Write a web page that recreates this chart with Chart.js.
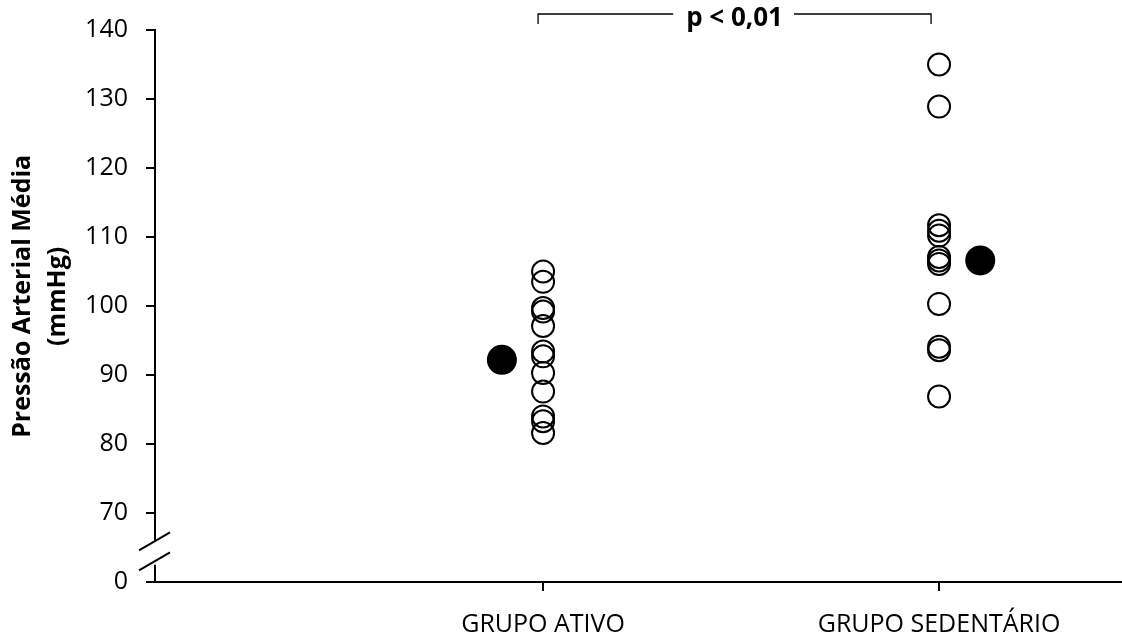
<!DOCTYPE html>
<html>
<head>
<meta charset="utf-8">
<script src="https://cdn.jsdelivr.net/npm/chart.js@4/dist/chart.umd.min.js"></script>
<style>
  html, body { margin: 0; padding: 0; background: #fff; overflow: hidden; }
  #wrap { width: 1122px; height: 637px; }
  canvas { display: block; }
</style>
</head>
<body>
<div id="wrap"><canvas id="pamChart"></canvas></div>
<script>
// Values (mmHg)
const groupLabels = ['GRUPO ATIVO', 'GRUPO SEDENTÁRIO'];
const groupX = [1, 2];
const meanX = [0.896, 2.104];
const ativoValues = [105.0, 103.5, 99.7, 99.2, 97.1, 93.4, 92.7, 90.3, 87.6, 84.0, 83.3, 81.6];
const sedentarioValues = [135.0, 128.9, 111.7, 110.9, 110.2, 107.1, 106.6, 106.1, 100.3, 94.1, 93.6, 86.9];
const groupMeans = [92.2, 106.6];
const yTicks = [60, 70, 80, 90, 100, 110, 120, 130, 140];
const yTickLabels = ['0', '70', '80', '90', '100', '110', '120', '130', '140'];
const pLabel = 'p < 0,01';
const yTitle = ['Pressão Arterial Média', '(mmHg)'];

const font = "'Open Sans', 'Liberation Sans', sans-serif";

// extra drawing: axis break, significance bracket, y title
const extras = {
    id: 'extras',
    afterDraw(chart) {
        const c = chart.ctx;
        const xs = chart.scales.x, ys = chart.scales.y;
        const ax = ys.right;
        c.save();
        c.strokeStyle = '#000';

        // axis break between 0 and 70
        const yTop = ys.getPixelForValue(66.1);
        const yBot = ys.getPixelForValue(62.5);
        c.fillStyle = '#fff';
        c.fillRect(ax - 4, yTop, 8, yBot - yTop);
        c.lineWidth = 2;
        [65.9, 63.0].forEach(v => {
            const yy = ys.getPixelForValue(v);
            c.beginPath();
            c.moveTo(ax - 16, yy + 9);
            c.lineTo(ax + 15, yy - 9);
            c.stroke();
        });

        // bracket with p-value
        const x1 = xs.getPixelForValue(groupX[0]) - 5;
        const x2 = xs.getPixelForValue(groupX[1]) - 8;
        const yb = chart.chartArea.top - 16;
        c.font = 'bold 26px ' + font;
        const tw = c.measureText(pLabel).width;
        const xm = (x1 + x2) / 2;
        c.lineWidth = 1.3;
        c.beginPath();
        c.moveTo(x1, yb + 10);
        c.lineTo(x1, yb);
        c.lineTo(xm - tw / 2 - 13, yb);
        c.moveTo(xm + tw / 2 + 11, yb);
        c.lineTo(x2, yb);
        c.lineTo(x2, yb + 10);
        c.stroke();
        c.fillStyle = '#000';
        c.textAlign = 'center';
        c.textBaseline = 'middle';
        c.fillText(pLabel, xm, yb + 5);

        // y axis title
        const yc = ys.getPixelForValue(101.4);
        c.font = 'bold 25px ' + font;
        c.translate(23, yc);
        c.rotate(-Math.PI / 2);
        c.fillText(yTitle[0], 0, 0);
        c.fillText(yTitle[1], 0, 35);
        c.restore();
    }
};

new Chart(document.getElementById('pamChart'), {
    type: 'scatter',
    data: {
        datasets: [
            {
                label: 'Ativo',
                data: ativoValues.map(v => ({ x: groupX[0], y: v })),
                pointRadius: 11,
                borderWidth: 2,
                borderColor: '#000',
                backgroundColor: 'rgba(0,0,0,0)'
            },
            {
                label: 'Sedentário',
                data: sedentarioValues.map(v => ({ x: groupX[1], y: v })),
                pointRadius: 11,
                borderWidth: 2,
                borderColor: '#000',
                backgroundColor: 'rgba(0,0,0,0)'
            },
            {
                label: 'Média',
                data: groupMeans.map((v, i) => ({ x: meanX[i], y: v })),
                pointRadius: 15,
                borderWidth: 0,
                backgroundColor: '#000'
            }
        ]
    },
    options: {
        responsive: true,
        maintainAspectRatio: false,
        animation: false,
        layout: { autoPadding: false, padding: { top: 30, right: 0, left: 0, bottom: 0 } },
        plugins: {
            legend: { display: false },
            tooltip: { enabled: false }
        },
        scales: {
            x: {
                type: 'linear',
                min: 0.02,
                max: 2.462,
                afterBuildTicks: s => { s.ticks = groupX.map(v => ({ value: v })); },
                afterFit: s => { s.height = 55; s.paddingLeft = 0; s.paddingRight = 0; },
                ticks: {
                    callback: v => groupLabels[groupX.indexOf(v)],
                    color: '#000',
                    font: { family: font, size: 25 },
                    padding: 19,
                    maxRotation: 0
                },
                grid: { drawOnChartArea: false, drawTicks: true, tickLength: 9, color: '#000', lineWidth: 2 },
                border: { display: true, color: '#000', width: 2 }
            },
            y: {
                min: 60,
                max: 140,
                afterBuildTicks: s => { s.ticks = yTicks.map(v => ({ value: v })); },
                afterFit: s => { s.width = 155; s.paddingTop = 0; s.paddingBottom = 0; },
                ticks: {
                    callback: v => yTickLabels[yTicks.indexOf(v)],
                    color: '#000',
                    font: { family: font, size: 25 },
                    padding: 18
                },
                grid: { drawOnChartArea: false, drawTicks: true, tickLength: 9, color: '#000', lineWidth: 2 },
                border: { display: true, color: '#000', width: 2 }
            }
        }
    },
    plugins: [extras]
});
</script>
</body>
</html>
